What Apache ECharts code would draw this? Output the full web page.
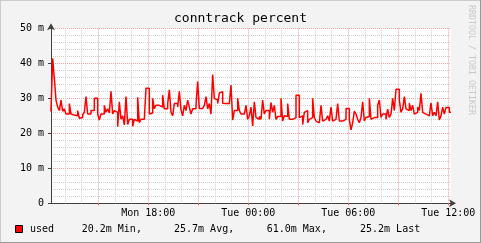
<!DOCTYPE html>
<html><head><meta charset="utf-8">
<script src="https://cdn.jsdelivr.net/npm/echarts@6/dist/echarts.min.js"></script>
<style>html,body{margin:0;padding:0;background:#f0f0f0}#c{width:481px;height:243px}</style>
</head><body><div id="c"></div>
<script>
const chartTitle = 'conntrack percent';
const seriesName = 'used';
const watermark = 'RRDTOOL / TOBI OETIKER';
// hours after Mon 12:00
const startHour = 10 / 60;
const stepHours = 0.1;
// values in milli (m) units
const usedMon12 = [27.2,26.2,41.4,35.7,29.5,27.5,26.5,29.5,26.3,27,25.5,25.5,28.5,25.5,25.2,25,25,26.5,24.3,24.5,25.3,26,30.5,25.5,25.5,26.5,26.5,30,30,25.5,23.8,25.5,25.5,28,26,27,25.8,32];
const usedMon16 = [25.5,26.5,26,21.9,29,24,25,22.4,30.5,22.5,24,24,22,24,23.5,30.3,23,24,24,24.5,32.9,32.9,25.5,25.8,30,27,28,28,27.5,27.5,30.9,27,27,28.5,32.4,26,25,28.5,28.5,27.5,32];
const usedMon20 = [26.7,25,28,26.5,29.5,27.5,25.5,27,27,28,34.8,27.1,27.1,27.5,28,30.5,27,28.5,25.5,36.8,30,29.5,28.5,31.5,31.9,28.6,28.5,28.5,28.5,28,33.8,23.8,26.5,26.5,30,26.5,25.5,25.5,25.5,28,24];
const usedTue00 = [25,27.5,22.1,29,24.5,24,24.8,24,29.5,25.5,26.5,26.5,24,28.8,26,28,24,24.8,24.8,30,23.5,25,24.8,28.5,24,24,23.5,24.5,30.9,30.9,24.5,25,22.5,26,26.5,23,24,24.5,30,24.5,23.5];
const usedTue04 = [23,23.5,28,23.5,24,24,25,23.5,27.5,23.5,24,24,28.5,23.5,23.5,23,24,27.1,27.1,24,21,23,26.3,25.5,24,23,24.5,29,23.5,24.5,24.8,30,24,24.5,25,24.5,28,29.5,24.5,25.5,25.5];
const usedTue08 = [24,26.9,24.5,25.5,30,26.5,32.6,32.6,29.5,26,27,30.5,27,26.5,28.6,26.5,28,25.5,26,27.5,26.5,31.4,26,25.5,25,25,25.5,28.7,25,26,25,29,23.8,25,27.5,25.5,27.4,27.4,26];
const yTickValues = [0,10,20,30,40,50];
const yTickLabels = ['0','10 m','20 m','30 m','40 m','50 m'];
const xMajorHours = [3,6,9,12,15,18,21,24];
const xMinorHours = [1,2,4,5,7,8,10,11,13,14,16,17,19,20,22,23];
const xLabelHours = [6,12,18,24];
const xLabelTexts = ['Mon 18:00','Tue 00:00','Tue 06:00','Tue 12:00'];
const legendStats = ['20.2m Min,','25.7m Avg,','61.0m Max,','25.2m Last'];

const allUsed = [].concat(usedMon12, usedMon16, usedMon20, usedTue00, usedTue04, usedTue08);
const seriesData = allUsed.map((v, i) => [startHour + i * stepHours, v]);

const mono = 'DejaVu Sans Mono';
const minorStyle = {color:'#cfcfcf', type:[1,1], width:1};
const majorStyle = {color:'#f4a0a0', type:[1,1], width:1};
const chart = echarts.init(document.getElementById('c'), null, {renderer: 'canvas'});
const statX = [81.7, 174, 266.7, 360];
const graphics = [
  {type:'line', shape:{x1:0,y1:0.5,x2:481,y2:0.5}, style:{stroke:'#cbcbcb',lineWidth:1}},
  {type:'line', shape:{x1:0.5,y1:0,x2:0.5,y2:243}, style:{stroke:'#cbcbcb',lineWidth:1}},
  {type:'line', shape:{x1:480.5,y1:0,x2:480.5,y2:243}, style:{stroke:'#999',lineWidth:1}},
  {type:'line', shape:{x1:0,y1:242.5,x2:481,y2:242.5}, style:{stroke:'#999',lineWidth:1}},
  {type:'text', x:240.5, y:19, style:{text:chartTitle, font:'13px "DejaVu Sans Mono"', fill:'#000', textAlign:'center', textVerticalAlign:'middle'}},
  {type:'text', x:471, y:5, rotation:-Math.PI/2, style:{text:watermark, font:'8.3px "DejaVu Sans Mono"', fill:'#c8c8c8', textAlign:'left', textVerticalAlign:'middle'}},
  {type:'rect', shape:{x:15.5,y:225.5,width:7,height:7}, style:{fill:'#ff0000', stroke:'#000', lineWidth:1}},
  {type:'text', x:30, y:229.5, style:{text:seriesName, font:'10px "DejaVu Sans Mono"', fill:'#000', textVerticalAlign:'middle'}}
];
legendStats.forEach((s, i) => graphics.push({type:'text', x:statX[i], y:229.5, style:{text:s, font:'10px "DejaVu Sans Mono"', fill:'#000', textVerticalAlign:'middle'}}));

const vGrid = xMinorHours.map(h => ({xAxis:h, lineStyle:minorStyle}))
  .concat(xMajorHours.map(h => ({xAxis:h, lineStyle:majorStyle})));

chart.setOption({
  animation: false,
  backgroundColor: '#f3f3f3',
  grid: {left:51, top:28.3, width:400, height:175, show:true, backgroundColor:'#fff', borderWidth:0},
  xAxis: {type:'value', min:startHour, max:startHour+24,
     axisLine:{show:true, symbol:['none','arrow'], symbolSize:[6,7], symbolOffset:[0,5], lineStyle:{color:'#404040', width:1}},
     axisTick:{show:true, customValues:xMajorHours, length:2, lineStyle:{color:'#ff6060'}},
     axisLabel:{show:true, customValues:xLabelHours, margin:5, fontFamily:mono, fontSize:10, color:'#000',
       formatter: v => xLabelTexts[xLabelHours.indexOf(Math.round(v))]},
     splitLine:{show:false}},
  yAxis: {type:'value', min:0, max:50, interval:10,
    axisLine:{show:true, symbol:['none','arrow'], symbolSize:[6,7], symbolOffset:[0,5], lineStyle:{color:'#404040', width:1}},
    axisTick:{show:true, length:3, lineStyle:{color:'#404040'}},
    axisLabel:{margin:7, fontFamily:mono, fontSize:10, color:'#000',
      formatter: v => yTickLabels[yTickValues.indexOf(v)]},
    splitLine:{show:true, lineStyle:majorStyle},
    minorTick:{show:false, splitNumber:5},
    minorSplitLine:{show:true, lineStyle:minorStyle}
  },
  series: [
    {name:'grid', type:'line', data:[], z:1, silent:true,
     markLine:{silent:true, symbol:'none', animation:false, label:{show:false}, emphasis:{disabled:true}, data:vGrid}},
    {name:seriesName, type:'line', step:'start', showSymbol:false,
     data: seriesData, lineStyle:{color:'#ff0000', width:1.5}, z:10}
  ],
  graphic: graphics
});
</script></body></html>
